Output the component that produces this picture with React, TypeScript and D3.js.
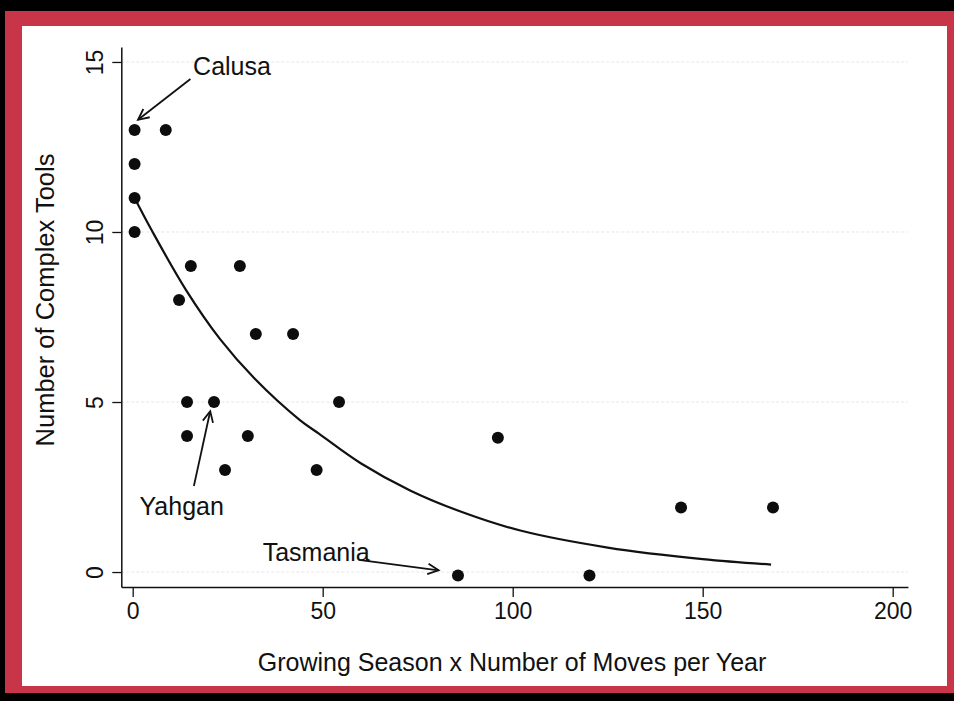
import React, { useEffect, useRef } from "react";
import * as d3 from "d3";

// ---- data ----
const pointX = [0.5, 0.5, 0.5, 0.5, 8.7, 15.3, 12.2, 28.2, 32.4, 42.2, 14.3, 21.4, 14.3, 30.3, 24.3, 48.4, 54.3, 96.1, 85.6, 120.2, 144.3, 168.5];
const pointY = [13, 12, 11, 10, 13, 9, 8, 9, 7, 7, 5, 5, 4, 4, 3, 3, 5, 3.95, -0.1, -0.1, 1.9, 1.9];

const fitX = [0.5, 5, 14, 23, 32, 44, 49, 60, 73, 87, 102, 125, 150, 168];
const fitY = [11, 10.05, 8.3, 6.85, 5.7, 4.47, 4.07, 3.2, 2.4, 1.75, 1.22, 0.72, 0.38, 0.22];

const xTicks = [0, 50, 100, 150, 200];
const yTicks = [0, 5, 10, 15];

const labelNames = ["Calusa", "Yahgan", "Tasmania"];
const labelX = [15.9, 1.8, 34.2];
const labelY = [14.62, 1.68, 0.33];
const arrowFromX = [15.2, 16.1, 60.0];
const arrowFromY = [14.5, 2.53, 0.35];
const arrowToX = [1.4, 20.4, 80.5];
const arrowToY = [13.3, 4.73, 0.05];

const xTitle = "Growing Season x Number of Moves per Year";
const yTitle = "Number of Complex Tools";

const W = 954;
const H = 701;
const FONT = "'Liberation Sans', Arial, Helvetica, sans-serif";

export default function App() {
  const xAxisRef = useRef<SVGGElement>(null);
  const yAxisRef = useRef<SVGGElement>(null);

  const x = d3.scaleLinear().domain([-3, 204]).range([121.3, 907.9]);
  const y = d3.scaleLinear().domain([-0.44, 15.44]).range([587, 47]);

  useEffect(() => {
    if (xAxisRef.current) {
      const g = d3.select(xAxisRef.current);
      g.call(d3.axisBottom(x).tickValues(xTicks).tickSizeOuter(0).tickSizeInner(10).tickPadding(6).tickFormat(d3.format("d")) as any);
      g.select(".domain").attr("stroke", "#111").attr("stroke-width", 1.5);
      g.selectAll(".tick line").attr("stroke", "#111").attr("stroke-width", 1.3);
      g.selectAll(".tick text").attr("font-family", FONT).attr("font-size", 23).attr("fill", "#111");
    }
    if (yAxisRef.current) {
      const g = d3.select(yAxisRef.current);
      g.call(d3.axisLeft(y).tickValues(yTicks).tickSizeOuter(0).tickSizeInner(9).tickPadding(0).tickFormat(d3.format("d")) as any);
      g.select(".domain").attr("stroke", "#111").attr("stroke-width", 1.5);
      g.selectAll(".tick line").attr("stroke", "#111").attr("stroke-width", 1.3);
      g.selectAll(".tick text")
        .attr("font-family", FONT)
        .attr("font-size", 23)
        .attr("fill", "#111")
        .attr("x", null)
        .attr("dy", null)
        .attr("text-anchor", "middle")
        .attr("transform", "translate(-18,0) rotate(-90)")
        .attr("y", 0);
    }
  });

  const line = d3
    .line<number>()
    .x((_, i) => x(fitX[i]))
    .y((d) => y(d))
    .curve(d3.curveCatmullRom);

  const arrowHead = (i: number) => {
    const x1 = x(arrowFromX[i]);
    const y1 = y(arrowFromY[i]);
    const x2 = x(arrowToX[i]);
    const y2 = y(arrowToY[i]);
    const ang = Math.atan2(y2 - y1, x2 - x1);
    const len = 12;
    const spread = 0.45;
    const a1 = ang + Math.PI - spread;
    const a2 = ang + Math.PI + spread;
    return `M${x2 + len * Math.cos(a1)},${y2 + len * Math.sin(a1)}L${x2},${y2}L${x2 + len * Math.cos(a2)},${y2 + len * Math.sin(a2)}`;
  };

  return (
    <div style={{ position: "fixed", left: 0, top: 0, width: W, height: H }}>
      <svg width={W} height={H} style={{ display: "block" }}>
        <rect x={0} y={0} width={W} height={H} fill="#000" />
        <rect x={5} y={11} width={W - 5} height={682} fill="#c93548" />
        <rect x={22} y={26} width={925} height={660} fill="#ffffff" />

        {/* gridlines */}
        <g>
          {yTicks.map((t) => (
            <line key={t} x1={x(-3)} x2={x(204)} y1={y(t)} y2={y(t)} stroke="#e6e6e6" strokeWidth={1} strokeDasharray="3,2" />
          ))}
        </g>

        <g ref={xAxisRef} transform={`translate(0,${y(-0.44)})`} />
        <g ref={yAxisRef} transform={`translate(${x(-3)},0)`} />

        {/* fitted curve */}
        <path d={line(fitY) || ""} fill="none" stroke="#111" strokeWidth={2.2} />

        {/* points */}
        <g>
          {pointX.map((px, i) => (
            <circle key={i} cx={x(px)} cy={y(pointY[i])} r={6} fill="#0d0d0d" />
          ))}
        </g>

        {/* annotations */}
        <g fontFamily={FONT} fontSize={25} fill="#111">
          {labelNames.map((n, i) => (
            <g key={n}>
              <text x={x(labelX[i])} y={y(labelY[i])}>{n}</text>
              <line x1={x(arrowFromX[i])} y1={y(arrowFromY[i])} x2={x(arrowToX[i])} y2={y(arrowToY[i])} stroke="#111" strokeWidth={1.8} />
              <path d={arrowHead(i)} fill="none" stroke="#111" strokeWidth={1.8} />
            </g>
          ))}
        </g>

        {/* axis titles */}
        <text x={512} y={671} textAnchor="middle" fontFamily={FONT} fontSize={25} fill="#111">{xTitle}</text>
        <text transform={`translate(54,300) rotate(-90)`} textAnchor="middle" fontFamily={FONT} fontSize={25.5} fill="#111">{yTitle}</text>
      </svg>
    </div>
  );
}
